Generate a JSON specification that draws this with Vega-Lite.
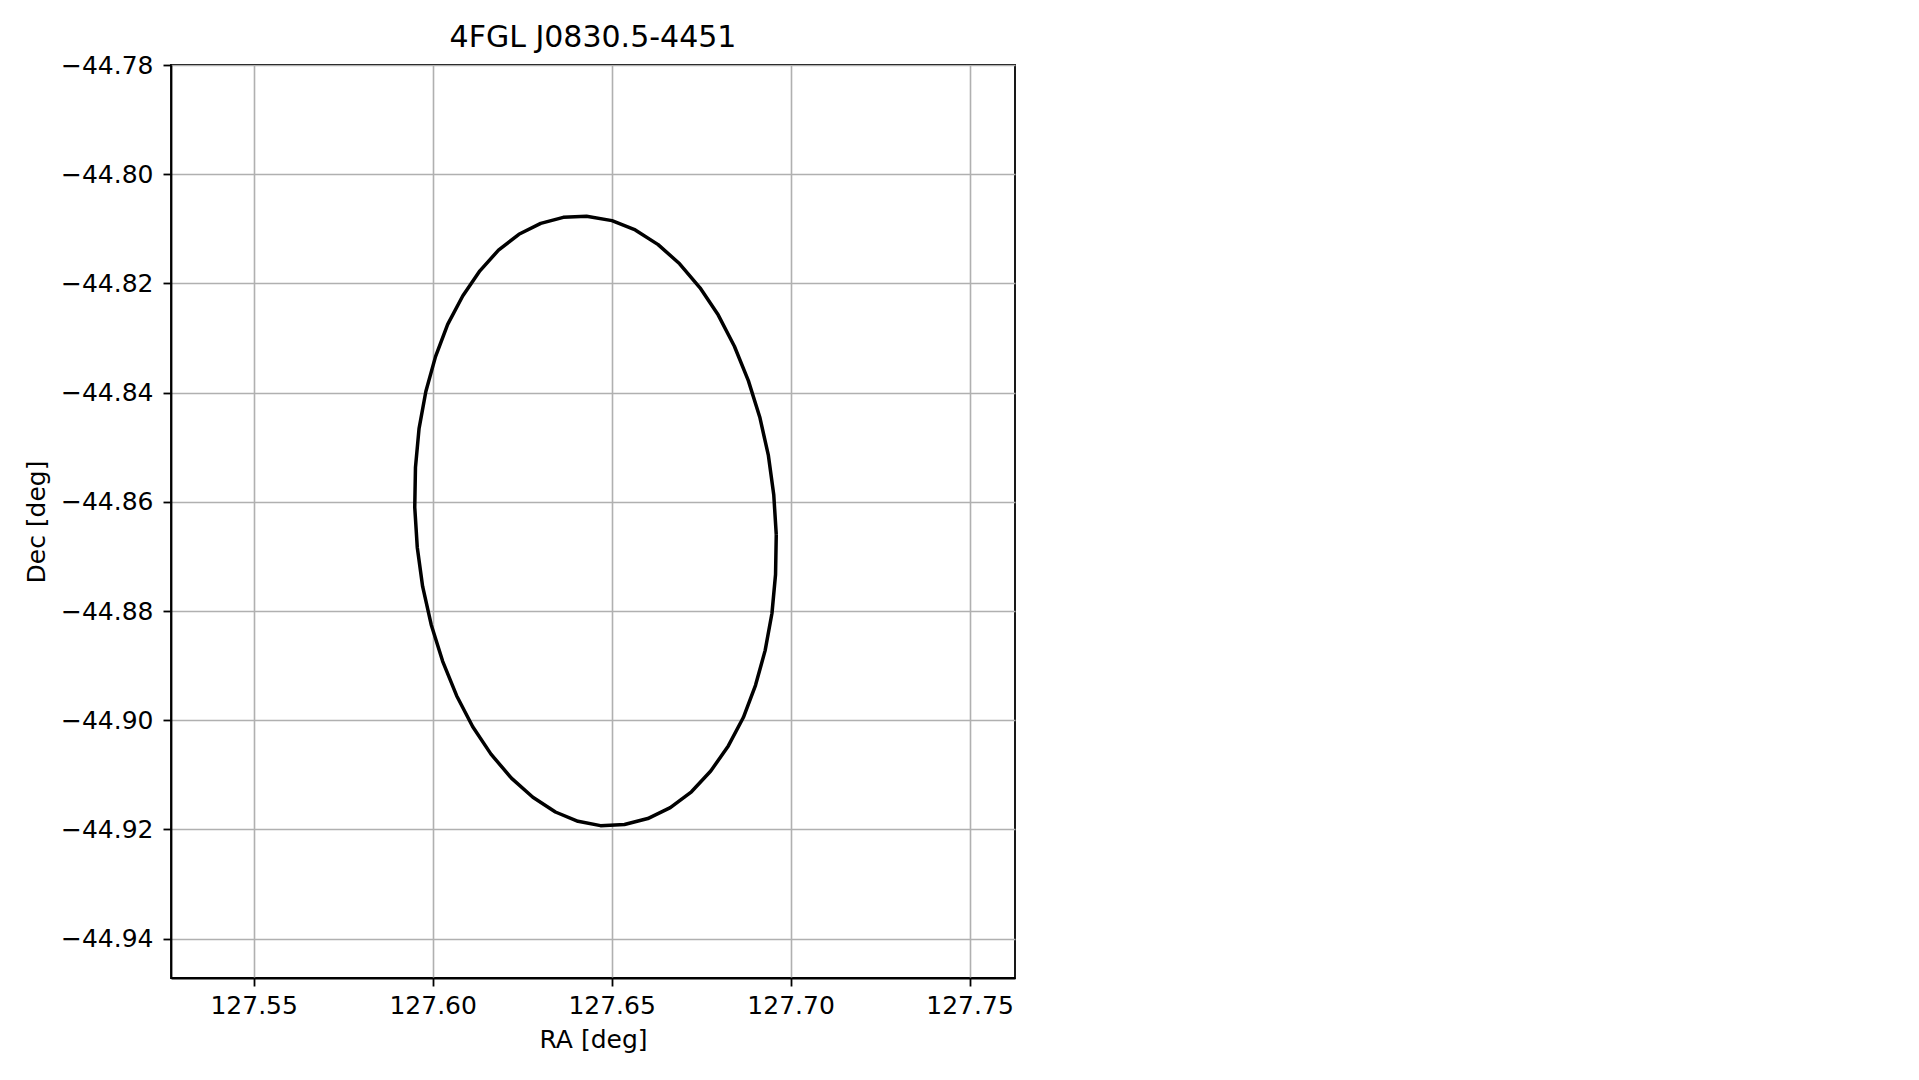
{
  "$schema": "https://vega.github.io/schema/vega-lite/v6.json",
  "width": 844,
  "height": 913,
  "autosize": {"type": "none"},
  "padding": {"left": 171, "top": 65, "right": 904, "bottom": 102},
  "background": "white",
  "title": {"text": "4FGL J0830.5-4451", "font": "DejaVu Sans", "fontSize": 30, "fontWeight": "normal", "color": "black", "offset": 14, "dy": 38, "baseline": "alphabetic", "anchor": "middle"},
  "config": {
    "view": {"stroke": "black", "strokeWidth": 1.8},
    "axis": {
      "grid": true,
      "gridColor": "#b0b0b0",
      "gridWidth": 1.6,
      "domainColor": "black",
      "domainWidth": 1.8,
      "tickColor": "black",
      "tickSize": 8,
      "tickWidth": 1.8,
      "labelFont": "DejaVu Sans",
      "labelFontSize": 25,
      "labelColor": "black",
      "titleFont": "DejaVu Sans",
      "titleFontSize": 25,
      "titleFontWeight": "normal",
      "titleColor": "black"
    }
  },
  "data": {"values": [
    {"i": 0, "ra": 127.6960, "dec": -44.8660},
    {"i": 1, "ra": 127.6953, "dec": -44.8587},
    {"i": 2, "ra": 127.6938, "dec": -44.8515},
    {"i": 3, "ra": 127.6914, "dec": -44.8445},
    {"i": 4, "ra": 127.6882, "dec": -44.8378},
    {"i": 5, "ra": 127.6843, "dec": -44.8315},
    {"i": 6, "ra": 127.6798, "dec": -44.8258},
    {"i": 7, "ra": 127.6747, "dec": -44.8208},
    {"i": 8, "ra": 127.6690, "dec": -44.8164},
    {"i": 9, "ra": 127.6630, "dec": -44.8129},
    {"i": 10, "ra": 127.6566, "dec": -44.8102},
    {"i": 11, "ra": 127.6501, "dec": -44.8085},
    {"i": 12, "ra": 127.6430, "dec": -44.8077},
    {"i": 13, "ra": 127.6365, "dec": -44.8079},
    {"i": 14, "ra": 127.6302, "dec": -44.8090},
    {"i": 15, "ra": 127.6241, "dec": -44.8110},
    {"i": 16, "ra": 127.6184, "dec": -44.8139},
    {"i": 17, "ra": 127.6132, "dec": -44.8177},
    {"i": 18, "ra": 127.6084, "dec": -44.8223},
    {"i": 19, "ra": 127.6042, "dec": -44.8275},
    {"i": 20, "ra": 127.6008, "dec": -44.8334},
    {"i": 21, "ra": 127.5981, "dec": -44.8398},
    {"i": 22, "ra": 127.5962, "dec": -44.8466},
    {"i": 23, "ra": 127.5952, "dec": -44.8537},
    {"i": 24, "ra": 127.5950, "dec": -44.8610},
    {"i": 25, "ra": 127.5957, "dec": -44.8683},
    {"i": 26, "ra": 127.5972, "dec": -44.8755},
    {"i": 27, "ra": 127.5996, "dec": -44.8825},
    {"i": 28, "ra": 127.6028, "dec": -44.8892},
    {"i": 29, "ra": 127.6067, "dec": -44.8955},
    {"i": 30, "ra": 127.6112, "dec": -44.9012},
    {"i": 31, "ra": 127.6163, "dec": -44.9062},
    {"i": 32, "ra": 127.6220, "dec": -44.9106},
    {"i": 33, "ra": 127.6280, "dec": -44.9141},
    {"i": 34, "ra": 127.6343, "dec": -44.9168},
    {"i": 35, "ra": 127.6406, "dec": -44.9185},
    {"i": 36, "ra": 127.6469, "dec": -44.9193},
    {"i": 37, "ra": 127.6536, "dec": -44.9191},
    {"i": 38, "ra": 127.6601, "dec": -44.9180},
    {"i": 39, "ra": 127.6664, "dec": -44.9160},
    {"i": 40, "ra": 127.6723, "dec": -44.9131},
    {"i": 41, "ra": 127.6777, "dec": -44.9093},
    {"i": 42, "ra": 127.6826, "dec": -44.9047},
    {"i": 43, "ra": 127.6868, "dec": -44.8995},
    {"i": 44, "ra": 127.6902, "dec": -44.8936},
    {"i": 45, "ra": 127.6929, "dec": -44.8872},
    {"i": 46, "ra": 127.6948, "dec": -44.8804},
    {"i": 47, "ra": 127.6958, "dec": -44.8733},
    {"i": 48, "ra": 127.6960, "dec": -44.8660}
  ]},
  "mark": {"type": "line", "color": "black", "strokeWidth": 3.5, "clip": true, "strokeJoin": "round"},
  "encoding": {
    "x": {
      "field": "ra", "type": "quantitative",
      "scale": {"domain": [127.5269, 127.7627], "nice": false, "zero": false},
      "axis": {"title": "RA [deg]", "values": [127.55, 127.6, 127.65, 127.7, 127.75], "format": ".2f", "labelPadding": 7, "titlePadding": 9, "labelFlush": false, "labelOverlap": false}
    },
    "y": {
      "field": "dec", "type": "quantitative",
      "scale": {"domain": [-44.9472, -44.78], "nice": false, "zero": false},
      "axis": {"title": "Dec [deg]", "values": [-44.78, -44.8, -44.82, -44.84, -44.86, -44.88, -44.9, -44.92, -44.94], "format": ".2f", "labelPadding": 10, "titlePadding": 11, "labelFlush": false, "labelOverlap": false}
    },
    "order": {"field": "i", "type": "quantitative"}
  }
}
